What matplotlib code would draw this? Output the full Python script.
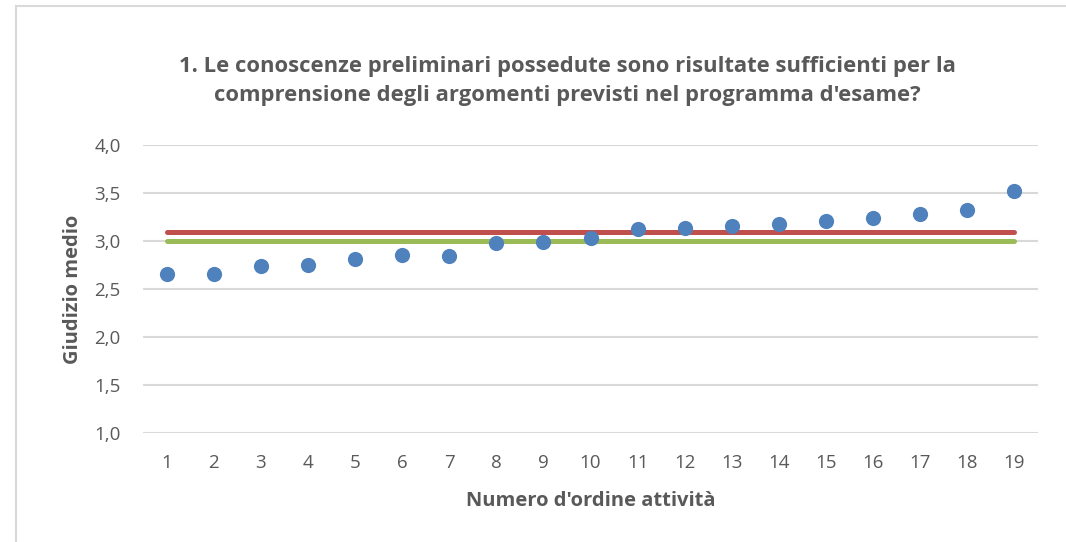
import numpy as np
import matplotlib.pyplot as plt
from matplotlib.lines import Line2D

# data
attivita = list(range(1, 20))
giudizio = [2.66, 2.66, 2.74, 2.75, 2.81, 2.85, 2.84, 2.98, 2.99, 3.03,
            3.13, 3.14, 3.16, 3.18, 3.21, 3.24, 3.28, 3.32, 3.52]
media_red = [3.09] * 19
soglia_green = [3.0] * 19
y_ticks = [1.0, 1.5, 2.0, 2.5, 3.0, 3.5, 4.0]

TEXT = "#595959"
GRID = "#D9D9D9"

plt.rcParams['font.family'] = ['Open Sans', 'DejaVu Sans']

fig = plt.figure(figsize=(10.66, 5.42), dpi=100)
ax = fig.add_axes([143 / 1066, 1 - 433 / 542, 895 / 1066, 288 / 542])

ax.plot(attivita, media_red, color="#C0504D", lw=3.6, solid_capstyle="round", zorder=2)
ax.plot(attivita, soglia_green, color="#9BBB59", lw=3.6, solid_capstyle="round", zorder=2)
ax.scatter(attivita, giudizio, s=120, color="#4F81BD", zorder=3, linewidths=0)

ax.set_xlim(0.5, 19.5)
ax.set_ylim(1.0, 4.0)
ax.set_xticks(attivita)
ax.set_yticks(y_ticks)
ax.set_yticklabels([f"{v:.1f}".replace(".", ",") for v in y_ticks])
ax.yaxis.grid(True, color=GRID, lw=1.5)
ax.set_axisbelow(True)
for s in ax.spines.values():
    s.set_visible(False)
ax.tick_params(length=0, labelsize=13.5, colors=TEXT)
ax.tick_params(axis="x", pad=15)
ax.tick_params(axis="y", pad=16)

ax.set_xlabel("Numero d'ordine attività", fontsize=14.5, fontweight="bold", color=TEXT, labelpad=14)
ax.set_ylabel("Giudizio medio", fontsize=14.5, fontweight="bold", color=TEXT, labelpad=8)

fig.text(0.532, 1 - 81 / 542,
         "1. Le conoscenze preliminari possedute sono risultate sufficienti per la\n"
         "comprensione degli argomenti previsti nel programma d'esame?",
         ha="center", va="center", fontsize=15.8, fontweight="bold", color=TEXT,
         linespacing=1.5)

# chart border (left and top edge visible)
fig.add_artist(Line2D([16 / 1066, 16 / 1066], [0, 1 - 6 / 542], color=GRID, lw=1.5))
fig.add_artist(Line2D([16 / 1066, 1], [1 - 6 / 542, 1 - 6 / 542], color=GRID, lw=1.5))

fig.savefig("out.png", dpi=100)
